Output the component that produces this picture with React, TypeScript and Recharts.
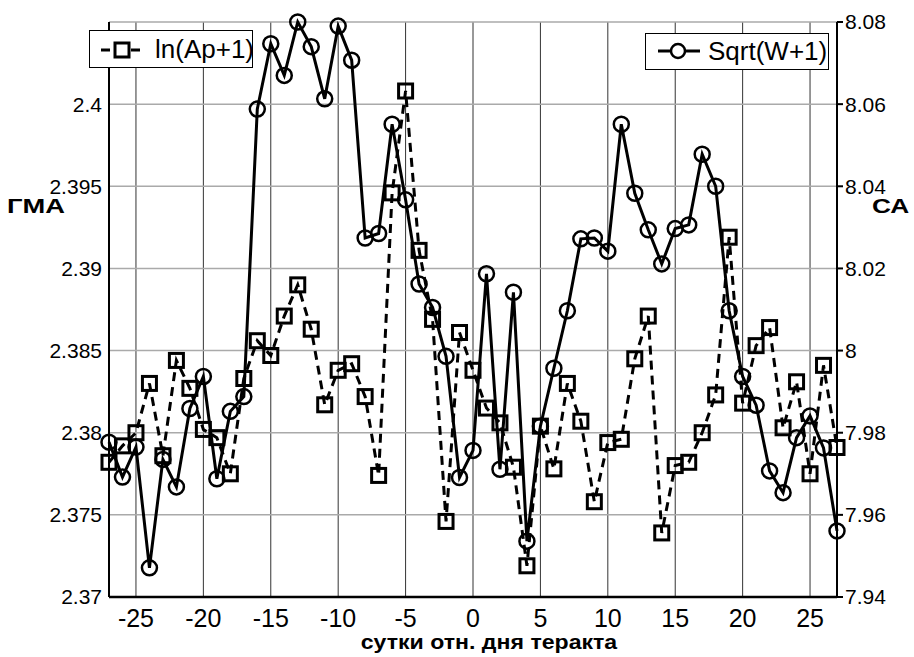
import React from 'react';
import { ComposedChart, Line, XAxis, YAxis, CartesianGrid } from 'recharts';

// days relative to the attack
const days = [
  -27, -26, -25, -24, -23, -22, -21, -20, -19, -18, -17, -16, -15, -14, -13, -12, -11, -10, -9, -8,
  -7, -6, -5, -4, -3, -2, -1, 0, 1, 2, 3, 4, 5, 6, 7, 8, 9, 10, 11, 12,
  13, 14, 15, 16, 17, 18, 19, 20, 21, 22, 23, 24, 25, 26, 27,
];

// ln(Ap+1), left axis (ГМА)
const lnAp = [
  2.3782, 2.3792, 2.38, 2.383, 2.3786, 2.3844, 2.3827, 2.3802, 2.3797, 2.3775, 2.3833, 2.3856, 2.3847, 2.3871, 2.389, 2.3863, 2.3817, 2.3838, 2.3842, 2.3822,
  2.3774, 2.3946, 2.4008, 2.3911, 2.3869, 2.3746, 2.3861, 2.3838, 2.3815, 2.3806, 2.3779, 2.3719, 2.3804, 2.3778, 2.383, 2.3807, 2.3758, 2.3794, 2.3796, 2.3845,
  2.3871, 2.3739, 2.378, 2.3782, 2.38, 2.3823, 2.3919, 2.3818, 2.3853, 2.3864, 2.3803, 2.3831, 2.3775, 2.3841, 2.3791,
];

// Sqrt(W+1), right axis (СА)
const sqrtW = [
  7.9777, 7.9692, 7.9765, 7.9471, 7.9735, 7.9668, 7.9859, 7.9937, 7.9688, 7.9852, 7.9888, 8.0588, 8.0747, 8.067, 8.08, 8.074, 8.0613, 8.079, 8.0707, 8.0274,
  8.0285, 8.0551, 8.0367, 8.0162, 8.0105, 7.9986, 7.9691, 7.9757, 8.0187, 7.9711, 8.0142, 7.9536, 7.9816, 7.9957, 8.0097, 8.0272, 8.0274, 8.0242, 8.0551, 8.0383,
  8.0294, 8.0211, 8.0297, 8.0306, 8.0478, 8.04, 8.0097, 7.9937, 7.9867, 7.9707, 7.9654, 7.9788, 7.9841, 7.9763, 7.9561,
];

const xTicks = [-25, -20, -15, -10, -5, 0, 5, 10, 15, 20, 25];
const leftTicks = [2.37, 2.375, 2.38, 2.385, 2.39, 2.395, 2.4];
const rightTicks = [7.94, 7.96, 7.98, 8, 8.02, 8.04, 8.06, 8.08];

const data = days.map((d, i) => ({ day: d, ap: lnAp[i], w: sqrtW[i] }));

const FONT = '"Liberation Sans", Arial, sans-serif';

const SquareDot = (props: any) => {
  const { cx, cy, index } = props;
  if (cx == null || cy == null) return <g key={`s${index}`} />;
  return (
    <rect key={`s${index}`} x={cx - 7} y={cy - 7} width={14} height={14}
      fill="none" stroke="#000" strokeWidth={3} />
  );
};

const CircleDot = (props: any) => {
  const { cx, cy, index } = props;
  if (cx == null || cy == null) return <g key={`c${index}`} />;
  return <circle key={`c${index}`} cx={cx} cy={cy} r={7.5} fill="none" stroke="#000" strokeWidth={2.5} />;
};

const fmt = (v: number) => String(Number(v.toFixed(3)));

export default function App() {
  return (
    <div style={{ position: 'absolute', left: 0, top: 0, width: 914, height: 657, background: '#fff', fontFamily: FONT, overflow: 'hidden' }}>
      <ComposedChart width={914} height={657} data={data} margin={{ top: 22, right: 0, bottom: 0, left: 0 }}>
        <CartesianGrid horizontal={false} stroke="#333" strokeWidth={1} />
        <CartesianGrid vertical={false} stroke="#aaa" strokeWidth={1.5} />
        <XAxis
          dataKey="day"
          type="number"
          domain={[-27, 27]}
          ticks={xTicks}
          height={60}
          tickSize={0}
          tickMargin={12}
          stroke="#000"
          strokeWidth={2.5}
          tick={{ fill: '#000', fontSize: 25, fontFamily: FONT }}
        />
        <XAxis xAxisId="top" orientation="top" dataKey="day" type="number" domain={[-27, 27]}
          height={0} tick={false} tickLine={false} stroke="#222" strokeWidth={1.5} />
        <YAxis
          domain={[2.37, 2.405]}
          ticks={leftTicks}
          width={109}
          tickSize={0}
          tickMargin={7}
          tickFormatter={fmt}
          stroke="#000"
          strokeWidth={2}
          tick={{ fill: '#000', fontSize: 21, fontFamily: FONT }}
        />
        <YAxis
          yAxisId="right"
          orientation="right"
          domain={[7.94, 8.08]}
          ticks={rightTicks}
          width={77}
          tickSize={6}
          tickMargin={2}
          tickFormatter={fmt}
          stroke="#000"
          strokeWidth={2}
          tick={{ fill: '#000', fontSize: 21, fontFamily: FONT }}
        />
        <Line
          dataKey="ap"
          stroke="#000"
          strokeWidth={3}
          strokeDasharray="9 6"
          dot={SquareDot}
          isAnimationActive={false}
        />
        <Line
          yAxisId="right"
          dataKey="w"
          stroke="#000"
          strokeWidth={3}
          dot={CircleDot}
          isAnimationActive={false}
        />
      </ComposedChart>

      {/* legends */}
      <div style={{ position: 'absolute', left: 89, top: 30, width: 162, height: 36, border: '1.5px solid #000', background: '#fff' }}>
        <svg width={50} height={36} style={{ position: 'absolute', left: 8, top: 0 }}>
          <line x1={2} y1={19} x2={46} y2={19} stroke="#000" strokeWidth={3} strokeDasharray="9 6" strokeDashoffset={-1} />
          <rect x={17} y={12} width={14} height={14} fill="#fff" stroke="#000" strokeWidth={3} />
        </svg>
        <div style={{ position: 'absolute', left: 65, top: 3, fontSize: 26, whiteSpace: 'nowrap' }}>ln(Ap+1)</div>
      </div>
      <div style={{ position: 'absolute', left: 645, top: 33, width: 182, height: 35, border: '1.5px solid #000', background: '#fff' }}>
        <svg width={50} height={36} style={{ position: 'absolute', left: 10, top: 0 }}>
          <line x1={2} y1={17} x2={44} y2={17} stroke="#000" strokeWidth={3} />
          <circle cx={22} cy={17} r={7} fill="#fff" stroke="#000" strokeWidth={2.5} />
        </svg>
        <div style={{ position: 'absolute', left: 62, top: 2, fontSize: 26, whiteSpace: 'nowrap' }}>Sqrt(W+1)</div>
      </div>

      {/* axis titles */}
      <div style={{ position: 'absolute', left: 7, top: 195, fontSize: 21, lineHeight: 1, fontWeight: 'bold', transform: 'scaleX(1.3)', transformOrigin: 'left top' }}>ГМА</div>
      <div style={{ position: 'absolute', left: 872, top: 195, fontSize: 21, lineHeight: 1, fontWeight: 'bold', transform: 'scaleX(1.25)', transformOrigin: 'left top' }}>СА</div>
      <div style={{ position: 'absolute', left: 0, width: 978, top: 630, textAlign: 'center', fontSize: 21, fontWeight: 'bold', transform: 'scaleX(1.1)', transformOrigin: '489px 0' }}>
        сутки отн. дня теракта
      </div>
    </div>
  );
}
